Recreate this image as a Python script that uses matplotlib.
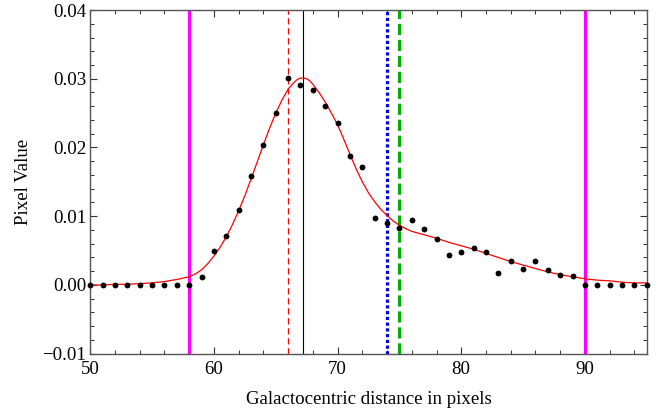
import numpy as np
import matplotlib
matplotlib.use("Agg")
import matplotlib.pyplot as plt
from matplotlib.ticker import MultipleLocator, FuncFormatter

# Measured pixel values along the galactocentric cut
distance = list(range(50, 96))
pixel_value = [
    0.0, 0.0, 0.0, 0.0, 0.0, 0.0, 0.0, 0.0, 0.0,          # 50-58
    0.00116, 0.0049, 0.0071, 0.01085, 0.0159, 0.0204,     # 59-64
    0.0250, 0.0301, 0.0291, 0.0284, 0.0261, 0.0236,       # 65-70
    0.0187, 0.0171, 0.0098, 0.0090, 0.0083, 0.0094,       # 71-76
    0.0081, 0.0067, 0.0043, 0.0048, 0.0054, 0.0048,       # 77-82
    0.0017, 0.0035, 0.0023, 0.0035, 0.0022, 0.0014,       # 83-88
    0.0013, 0.0, 0.0, 0.0, 0.0, 0.0, 0.0,                 # 89-95
]

# Fitted profile, sampled along the distance axis
fit_x = [50, 51, 52, 53, 54, 55, 56, 57, 58, 58.5, 59, 59.5, 60, 60.5, 61,
         61.5, 62, 62.5, 63, 63.5, 64, 64.5, 65, 65.5, 66, 66.5, 66.75, 67,
         67.25, 67.5, 67.75, 68, 68.5, 69, 69.5, 70, 70.5, 71, 71.5, 72,
         72.5, 73, 73.5, 74, 74.5, 75, 75.5, 76, 77, 78, 79, 80, 81, 82, 83,
         84, 85, 86, 87, 88, 89, 90, 91, 92, 93, 94, 95]
fit_y = [0.0000, 0.0000, 0.0001, 0.0001, 0.0002, 0.0003, 0.0005, 0.0008,
         0.0012, 0.0016, 0.0022, 0.0031, 0.0042, 0.0055, 0.0070, 0.0088,
         0.0108, 0.0130, 0.0154, 0.0179, 0.0204, 0.0228, 0.0250, 0.0269,
         0.0285, 0.0295, 0.0299, 0.0301, 0.0301, 0.0300, 0.0297, 0.0292,
         0.0280, 0.0266, 0.0250, 0.0233, 0.0212, 0.0190, 0.0169, 0.0150,
         0.0134, 0.0121, 0.0110, 0.0101, 0.0093, 0.0087, 0.0082, 0.0078,
         0.0073, 0.0068, 0.0062, 0.0057, 0.0052, 0.0046, 0.0040, 0.0034,
         0.0029, 0.0024, 0.0019, 0.0015, 0.0012, 0.0009, 0.0007, 0.0006,
         0.0004, 0.0003, 0.0003]

# Marker positions along the cut
window_edges = [58, 90]
fit_centre = 67.2
peak_pixel = 66
marker_blue = 74
marker_green = 75

plt.rcParams["font.family"] = ["Liberation Serif", "DejaVu Serif"]

fig = plt.figure(figsize=(6.7, 4.12), dpi=100)
ax = fig.add_axes([0.1348, 0.1415, 0.8304, 0.8342])

for xe in window_edges:
    ax.axvline(xe, color="#ff00ff", lw=2.3, zorder=2)
ax.axvline(peak_pixel, color="red", lw=0.9, ls=(0, (5, 3)), zorder=2)
ax.axvline(fit_centre, color="black", lw=0.8, zorder=2)
ax.axvline(marker_blue, color="#0000ee", lw=2.3, ls=(0, (1, 0.8)), zorder=2)
ax.axvline(marker_green, color="#00b000", lw=2.3, ls=(0, (3.5, 1.5)), zorder=2)

ax.plot(fit_x, fit_y, color="red", lw=0.9, zorder=3)
ax.plot(distance, pixel_value, "o", color="black", ms=4.2, mew=0,
        zorder=4, clip_on=False)

ax.set_xlim(50, 95)
ax.set_ylim(-0.01, 0.04)

ax.xaxis.set_major_locator(MultipleLocator(10))
ax.xaxis.set_minor_locator(MultipleLocator(2))
ax.yaxis.set_major_locator(MultipleLocator(0.01))
ax.yaxis.set_minor_locator(MultipleLocator(0.002))
ax.yaxis.set_major_formatter(
    FuncFormatter(lambda v, p: ("%.2f" % v).replace("-", "\u2212")))

ax.tick_params(which="both", direction="in", top=True, right=True,
               color="#333333", labelsize=13.6)
ax.tick_params(axis="x", which="both", pad=5.5)
ax.tick_params(axis="y", which="both", pad=3)
ax.tick_params(which="major", length=5, width=0.8)
ax.tick_params(which="minor", length=3, width=0.7)
for s in ax.spines.values():
    s.set_color("#555555")
    s.set_linewidth(1.0)

ax.set_xlabel("Galactocentric distance in pixels", fontsize=13.6, labelpad=9)
ax.set_ylabel("Pixel Value", fontsize=13.6, labelpad=7)

fig.savefig("out.png", dpi=100)
